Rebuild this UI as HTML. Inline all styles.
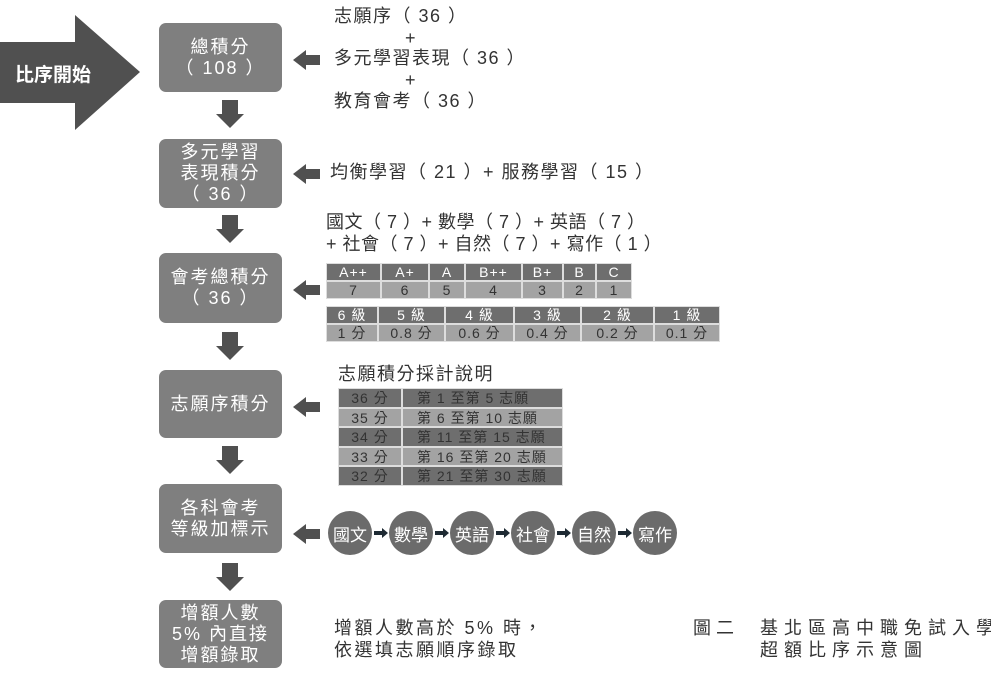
<!DOCTYPE html>
<html><head><meta charset="utf-8"><style>
body{margin:0;width:991px;height:674px;background:#fff;position:relative;overflow:hidden;font-family:"Liberation Sans","Noto Sans CJK TC",sans-serif;}
.a{position:absolute;white-space:nowrap;}
.box{position:absolute;left:159px;width:123px;background:#7f7f7f;border-radius:7px;color:#fff;font-size:18px;letter-spacing:2px;line-height:21px;display:flex;align-items:center;justify-content:center;text-align:center;}
.t{font-size:18px;color:#333;line-height:22px;letter-spacing:1.5px;}
.c{position:absolute;display:flex;align-items:center;justify-content:center;color:#fff;border:1px solid #ddd;box-sizing:border-box;font-size:14px;letter-spacing:1px;}
.d{background:#6e6e6e}.l{background:#a3a3a3;color:#333}
.cir{position:absolute;top:511px;width:44px;height:44px;border-radius:50%;background:#6b6b6b;color:#fff;font-size:17px;display:flex;align-items:center;justify-content:center;}
</style></head><body>
<svg class="a" style="left:0;top:0" width="991" height="674">
<polygon points="0,42 75,42 75,15 140,72 75,130 75,103 0,103" fill="#505050"/>
<g fill="#505050">
<polygon points="222,100 238,100 238,114 244,114 230,128 216,114 222,114"/>
<polygon points="222,215 238,215 238,229 244,229 230,243 216,229 222,229"/>
<polygon points="222,332 238,332 238,346 244,346 230,360 216,346 222,346"/>
<polygon points="222,446 238,446 238,460 244,460 230,474 216,460 222,460"/>
<polygon points="222,563 238,563 238,577 244,577 230,591 216,577 222,577"/>
<polygon points="293,60 306,50 306,55 320,55 320,65 306,65 306,70"/>
<polygon points="293,174 306,164 306,169 320,169 320,179 306,179 306,184"/>
<polygon points="293,290 306,280 306,285 320,285 320,295 306,295 306,300"/>
<polygon points="293,407 306,397 306,402 320,402 320,412 306,412 306,417"/>
<polygon points="293,534 306,524 306,529 320,529 320,539 306,539 306,544"/>
</g>
<g fill="#1e2a33">
<polygon points="374,531 382,531 382,528 388,533 382,538 382,535 374,535"/>
<polygon points="435,531 443,531 443,528 449,533 443,538 443,535 435,535"/>
<polygon points="496,531 504,531 504,528 510,533 504,538 504,535 496,535"/>
<polygon points="557,531 565,531 565,528 571,533 565,538 565,535 557,535"/>
<polygon points="618,531 626,531 626,528 632,533 626,538 626,535 618,535"/>
</g>
</svg>
<div class="a" style="left:15px;top:60px;color:#fff;font-size:19px;font-weight:bold;">比序開始</div>
<div class="box" style="top:23px;height:69px">總積分<br>（ 108 ）</div>
<div class="box" style="top:139px;height:69px">多元學習<br>表現積分<br>（ 36 ）</div>
<div class="box" style="top:253px;height:70px">會考總積分<br>（ 36 ）</div>
<div class="box" style="top:370px;height:68px">志願序積分</div>
<div class="box" style="top:484px;height:69px">各科會考<br>等級加標示</div>
<div class="box" style="top:600px;height:68px">增額人數<br>5% 內直接<br>增額錄取</div>

<div class="a t" style="left:334px;top:5px">志願序（ 36 ）</div>
<div class="a t" style="left:405px;top:27px">+</div>
<div class="a t" style="left:334px;top:47px">多元學習表現（ 36 ）</div>
<div class="a t" style="left:405px;top:69px">+</div>
<div class="a t" style="left:334px;top:90px">教育會考（ 36 ）</div>
<div class="a t" style="left:330px;top:161px">均衡學習（ 21 ）+ 服務學習（ 15 ）</div>
<div class="a t" style="left:326px;top:211px;letter-spacing:0.5px">國文（ 7 ）+ 數學（ 7 ）+ 英語（ 7 ）</div>
<div class="a t" style="left:326px;top:233px;letter-spacing:0.5px">+ 社會（ 7 ）+ 自然（ 7 ）+ 寫作（ 1 ）</div>
<div class="a t" style="left:338px;top:363px">志願積分採計說明</div>

<div class="c d" style="left:326px;top:263px;width:55px;height:18px">A++</div>
<div class="c d" style="left:381px;top:263px;width:48px;height:18px">A+</div>
<div class="c d" style="left:429px;top:263px;width:36px;height:18px">A</div>
<div class="c d" style="left:465px;top:263px;width:57px;height:18px">B++</div>
<div class="c d" style="left:522px;top:263px;width:41px;height:18px">B+</div>
<div class="c d" style="left:563px;top:263px;width:33px;height:18px">B</div>
<div class="c d" style="left:596px;top:263px;width:36px;height:18px">C</div>
<div class="c l" style="left:326px;top:281px;width:55px;height:18px">7</div>
<div class="c l" style="left:381px;top:281px;width:48px;height:18px">6</div>
<div class="c l" style="left:429px;top:281px;width:36px;height:18px">5</div>
<div class="c l" style="left:465px;top:281px;width:57px;height:18px">4</div>
<div class="c l" style="left:522px;top:281px;width:41px;height:18px">3</div>
<div class="c l" style="left:563px;top:281px;width:33px;height:18px">2</div>
<div class="c l" style="left:596px;top:281px;width:36px;height:18px">1</div>

<div class="c d" style="left:326px;top:306px;width:52px;height:18px">6 級</div>
<div class="c d" style="left:378px;top:306px;width:67px;height:18px">5 級</div>
<div class="c d" style="left:445px;top:306px;width:69px;height:18px">4 級</div>
<div class="c d" style="left:514px;top:306px;width:67px;height:18px">3 級</div>
<div class="c d" style="left:581px;top:306px;width:73px;height:18px">2 級</div>
<div class="c d" style="left:654px;top:306px;width:66px;height:18px">1 級</div>
<div class="c l" style="left:326px;top:324px;width:52px;height:18px">1 分</div>
<div class="c l" style="left:378px;top:324px;width:67px;height:18px">0.8 分</div>
<div class="c l" style="left:445px;top:324px;width:69px;height:18px">0.6 分</div>
<div class="c l" style="left:514px;top:324px;width:67px;height:18px">0.4 分</div>
<div class="c l" style="left:581px;top:324px;width:73px;height:18px">0.2 分</div>
<div class="c l" style="left:654px;top:324px;width:66px;height:18px">0.1 分</div>

<div class="c d" style="left:338px;top:388px;width:64px;height:20px;color:#333">36 分</div>
<div class="c d" style="left:402px;top:388px;width:161px;height:20px;color:#333;justify-content:flex-start;padding-left:14px">第 1 至第 5 志願</div>
<div class="c l" style="left:338px;top:408px;width:64px;height:19px">35 分</div>
<div class="c l" style="left:402px;top:408px;width:161px;height:19px;justify-content:flex-start;padding-left:14px">第 6 至第 10 志願</div>
<div class="c d" style="left:338px;top:427px;width:64px;height:20px;color:#333">34 分</div>
<div class="c d" style="left:402px;top:427px;width:161px;height:20px;color:#333;justify-content:flex-start;padding-left:14px">第 11 至第 15 志願</div>
<div class="c l" style="left:338px;top:447px;width:64px;height:19px">33 分</div>
<div class="c l" style="left:402px;top:447px;width:161px;height:19px;justify-content:flex-start;padding-left:14px">第 16 至第 20 志願</div>
<div class="c d" style="left:338px;top:466px;width:64px;height:20px;color:#333">32 分</div>
<div class="c d" style="left:402px;top:466px;width:161px;height:20px;color:#333;justify-content:flex-start;padding-left:14px">第 21 至第 30 志願</div>

<div class="cir" style="left:328px">國文</div>
<div class="cir" style="left:389px">數學</div>
<div class="cir" style="left:450px">英語</div>
<div class="cir" style="left:511px">社會</div>
<div class="cir" style="left:572px">自然</div>
<div class="cir" style="left:633px">寫作</div>

<div class="a t" style="left:334px;top:617px;letter-spacing:2.5px">增額人數高於 5% 時，</div>
<div class="a t" style="left:334px;top:639px;letter-spacing:2.5px">依選填志願順序錄取</div>
<div class="a t" style="left:693px;top:617px;letter-spacing:5px">圖二</div>
<div class="a t" style="left:760px;top:617px;letter-spacing:6px">基北區高中職免試入學</div>
<div class="a t" style="left:760px;top:639px;letter-spacing:6px">超額比序示意圖</div>
</body></html>
